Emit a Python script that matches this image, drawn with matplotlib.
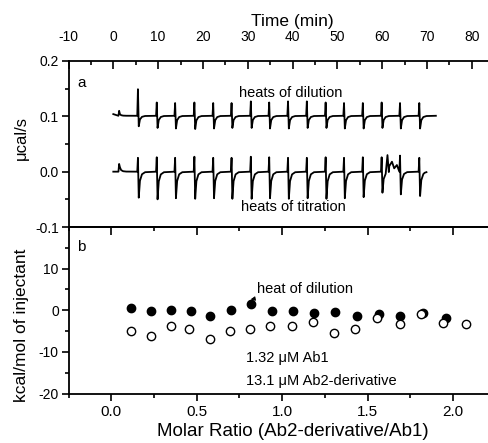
import matplotlib
matplotlib.use("Agg")
import matplotlib.pyplot as plt
from matplotlib.ticker import MultipleLocator, FormatStrFormatter, FixedLocator
import numpy as np

plt.rcParams['font.family'] = ['Liberation Sans', 'DejaVu Sans']
plt.rcParams['axes.unicode_minus'] = False

# ---------------- data: raw ITC traces (panel a) ----------------
inj_t = [1.3, 5.5, 9.7, 13.8, 18.1, 22.3, 26.4, 30.7, 34.8, 39.0, 43.2,
         47.4, 51.5, 55.7, 59.9, 64.0, 68.3]
dil_up = [0.110, 0.149, 0.125, 0.124, 0.125, 0.124, 0.124, 0.127, 0.125,
          0.127, 0.127, 0.125, 0.124, 0.124, 0.125, 0.124, 0.124]
dil_dn = [0.104, 0.082, 0.079, 0.078, 0.077, 0.078, 0.079, 0.079, 0.078,
          0.078, 0.079, 0.079, 0.078, 0.078, 0.079, 0.078, 0.078]
dil_start, dil_end = 0.0, 72.0
dil_base = 0.101

tit_up = [0.014, 0.025, 0.026, 0.025, 0.027, 0.025, 0.025, 0.027, 0.026,
          0.025, 0.025, 0.026, 0.025, 0.026, 0.026, 0.029, 0.025]
tit_dn = [0.008, -0.047, -0.050, -0.048, -0.049, -0.048, -0.049, -0.049,
          -0.048, -0.049, -0.048, -0.049, -0.048, -0.046, -0.038, -0.041, -0.044]
tit_start, tit_end = 0.0, 69.5
tit_base = 0.0
tit_end_val = -0.002
# extra disturbances in the titration trace (time, value)
tit_extra_t = [61.2, 61.6, 62.2, 62.7, 63.3]
tit_extra_v = [0.030, 0.010, 0.018, 0.006, 0.012]

# ---------------- data: integrated heats (panel b) ----------------
dil_ratio = [0.113, 0.23, 0.347, 0.464, 0.58, 0.698, 0.818, 0.94, 1.062,
             1.185, 1.306, 1.438, 1.565, 1.69, 1.822, 1.955]
dil_heat = [0.6, -0.2, 0.0, -0.2, -1.4, 0.0, 1.6, -0.2, -0.1,
            -0.7, -0.5, -1.4, -1.0, -1.4, -0.6, -1.8]
tit_ratio = [0.113, 0.23, 0.347, 0.457, 0.575, 0.696, 0.811, 0.93, 1.056,
             1.179, 1.30, 1.423, 1.553, 1.686, 1.813, 1.943, 2.072]
tit_heat = [-5.1, -6.2, -3.9, -4.6, -6.8, -4.9, -4.5, -3.9, -3.9,
            -2.8, -5.4, -4.6, -1.9, -3.3, -0.9, -3.1, -3.2]

time_ticks = [-10, 0, 10, 20, 30, 40, 50, 60, 70, 80]
heat_ticks = [-20, -10, 0, 10]


def build_trace(t0, t1, base, ts, ups, dns, start_val=None, end_val=None):
    tt = [t0]
    vv = [base if start_val is None else start_val]
    for t, u, d in zip(ts, ups, dns):
        depth = base - d
        tt += [t - 0.15, t, t + 0.18, t + 0.45, t + 0.9, t + 1.6]
        vv += [base, u, d, base - 0.35 * depth, base - 0.10 * depth, base - 0.02 * depth]
    tt.append(t1)
    vv.append(base if end_val is None else end_val)
    return np.array(tt), np.array(vv)


fig = plt.figure(figsize=(4.88, 4.43), dpi=100)
W = 448 / 488
ax1 = fig.add_axes([68.5 / 488, 1 - 227 / 443, W, (227 - 61) / 443])
ax2 = fig.add_axes([68.5 / 488, 1 - 393.5 / 443, W, (393.5 - 227) / 443])

for ax in (ax1, ax2):
    for s in ax.spines.values():
        s.set_linewidth(1.3)

# ---- panel a ----
td, vd = build_trace(dil_start, dil_end, dil_base, inj_t, dil_up, dil_dn,
                     start_val=0.104)
tt, vt = build_trace(tit_start, tit_end, tit_base, inj_t, tit_up, tit_dn,
                     end_val=tit_end_val)
all_t = np.concatenate([tt, tit_extra_t])
all_v = np.concatenate([vt, tit_extra_v])
order = np.argsort(all_t, kind='stable')
ax1.plot(td, vd, color='black', lw=1.3)
ax1.plot(all_t[order], all_v[order], color='black', lw=1.3)

ax1.set_xlim(-10, 90)
ax1.set_ylim(-0.1, 0.2)
ax1.xaxis.set_ticks_position('top')
ax1.xaxis.set_label_position('top')
ax1.xaxis.set_major_locator(FixedLocator(time_ticks))
ax1.xaxis.set_minor_locator(MultipleLocator(5))
ax1.yaxis.set_major_locator(MultipleLocator(0.1))
ax1.yaxis.set_minor_locator(MultipleLocator(0.05))
ax1.yaxis.set_major_formatter(FormatStrFormatter('%.1f'))
ax1.tick_params(axis='x', which='major', direction='in', length=6, width=1.2,
                labelsize=10, pad=12)
ax1.tick_params(axis='x', which='minor', direction='in', length=3, width=1.2)
ax1.tick_params(axis='y', which='major', direction='out', length=5, width=1.2,
                labelsize=10, pad=2)
ax1.tick_params(axis='y', which='minor', direction='out', length=3, width=1.2)
ax1.set_xlabel('Time (min)', fontsize=12.5, labelpad=3)
ax1.set_ylabel('μcal/s', fontsize=12)

ax1.text(-7.0, 0.160, 'a', fontsize=11, ha='center', va='center')
ax1.text(39.7, 0.142, 'heats of dilution', fontsize=10.5, ha='center', va='center')
ax1.text(40.1, -0.063, 'heats of titration', fontsize=10.5, ha='center', va='center')

# ---- panel b ----
ax2.plot(dil_ratio, dil_heat, 'o', color='black', ms=6, mec='black', mew=1)
ax2.plot(tit_ratio, tit_heat, 'o', mfc='white', mec='black', ms=6, mew=1)

ax2.set_xlim(-0.25, 2.37)
ax2.set_ylim(-20, 20)
ax2.xaxis.set_major_locator(MultipleLocator(0.5))
ax2.xaxis.set_minor_locator(MultipleLocator(0.25))
ax2.xaxis.set_major_formatter(FormatStrFormatter('%.1f'))
ax2.yaxis.set_major_locator(FixedLocator(heat_ticks))
ax2.yaxis.set_minor_locator(FixedLocator([-15, -5, 5, 15]))
ax2.tick_params(axis='x', which='major', direction='out', length=5, width=1.2,
                labelsize=11, pad=3)
ax2.tick_params(axis='x', which='minor', direction='out', length=3, width=1.2)
ax2.tick_params(axis='y', which='major', direction='out', length=5, width=1.2,
                labelsize=10, pad=2)
ax2.tick_params(axis='y', which='minor', direction='out', length=3, width=1.2)
sec = ax2.secondary_xaxis('top')
sec.xaxis.set_major_locator(MultipleLocator(0.5))
sec.xaxis.set_minor_locator(MultipleLocator(0.25))
sec.tick_params(which='major', direction='in', length=6, width=1.2, labeltop=False)
sec.tick_params(which='minor', direction='in', length=3, width=1.2)
sec.spines['top'].set_linewidth(1.3)

ax2.set_xlabel('Molar Ratio (Ab2-derivative/Ab1)', fontsize=13.5, labelpad=3)
ax2.set_ylabel('kcal/mol of injectant', fontsize=12.5)

ax2.text(-0.174, 15.1, 'b', fontsize=11, ha='center', va='center')
ax2.annotate('heat of dilution', xy=(0.815, 2.6), xytext=(0.85, 5.0),
             fontsize=10.5, ha='left', va='center',
             arrowprops=dict(arrowstyle='-|>', color='black', lw=0.8,
                             mutation_scale=6, shrinkA=0, shrinkB=0))
ax2.text(0.786, -11.5, '1.32 μM Ab1', fontsize=10.5, ha='left', va='center')
ax2.text(0.786, -17.0, '13.1 μM Ab2-derivative', fontsize=10.5, ha='left', va='center')

ax1.yaxis.set_label_coords(-(68.5 - 29) / 448, 0.535)
ax2.yaxis.set_label_coords(-(68.5 - 29) / 448, 0.41)

fig.savefig('out.png', dpi=100)
